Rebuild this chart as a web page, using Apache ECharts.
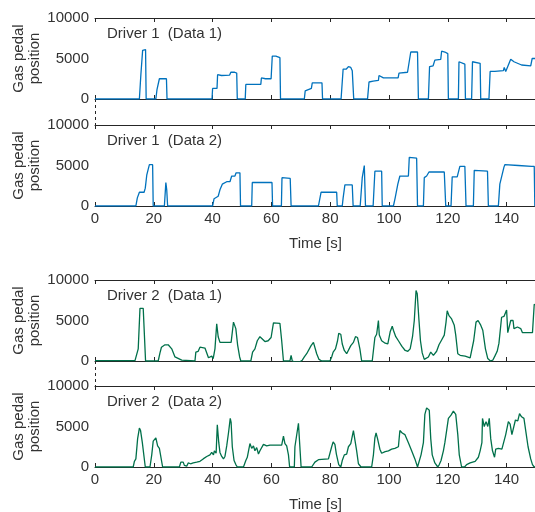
<!DOCTYPE html>
<html>
<head>
<meta charset="utf-8">
<script src="https://cdn.jsdelivr.net/npm/echarts@6/dist/echarts.min.js"></script>
<style>
html, body { margin: 0; padding: 0; background: #fff; }
#chart { width: 535px; height: 512px; }
</style>
</head>
<body>
<div id="chart"></div>
<script>
// time [s] / gas pedal position pairs
var driver1Data1 = [[0,0],[11.5,0],[11.7,100],[11.9,0],[15.1,0],[15.6,3000],[16.2,6000],[16.3,6100],[17.2,6100],[17.4,0],
    [20.7,0],[21.1,1200],[21.9,2500],[24.3,2500],[24.5,0],
    [39.8,0],[40.0,1300],[41.5,1300],[41.7,3000],[43,2900],[45.8,2950],[46.2,3300],[47.5,3300],[48.2,3200],[48.4,0],
    [51.1,0],[51.3,1800],[56.4,1800],[56.6,2600],[58,2500],[59.9,2500],[60.3,5300],[61.5,5300],[62.9,5100],[63.1,0],
    [71.2,0],[71.5,1000],[72,1200],[73.6,1300],[73.9,2000],[77.2,2000],[77.4,0],
    [83.7,0],[84.4,3700],[85.5,3700],[86.2,4000],[87.0,3900],[87.5,3500],[88,0],
    [92.7,0],[93.2,2100],[94.6,2200],[96.4,2300],[96.6,2900],[98.1,2600],[103.1,2600],[103.4,3200],[106.3,3300],[106.8,3500],[107.4,5800],[109.7,5800],[110,0],
    [113.4,0],[113.8,4000],[115,4100],[115.6,4800],[117.6,4900],[117.9,5900],[119,5800],[120,5600],[120.2,0],
    [123.6,0],[123.8,4600],[125.8,4300],[126,0],
    [128.1,0],[128.4,4600],[131,4400],[131.2,0],
    [134,0],[134.4,3400],[136,3400],[138.9,3500],[139.2,3900],[139.7,3400],[141.4,4900],[142.5,4600],[145.1,4200],[148.2,4100],[148.7,5000],[150,5000]];

var driver1Data2 = [[0,0],[13.9,0],[14.4,1000],[15.1,1700],[16.7,1700],[17.1,2200],[17.6,3800],[18.0,4400],[18.5,5100],[19.6,5100],[19.8,0],
    [23.6,0],[24.1,2900],[24.4,2000],[24.7,0],
    [40,0],[40.5,900],[41.9,1200],[42.5,2000],[43.3,2700],[44.8,3000],[45.9,3000],[46.5,3700],[47.6,3700],[48.0,4100],[49.3,4100],[49.5,0],
    [53.3,0],[53.5,2900],[60.2,2900],[60.4,0],
    [63.4,0],[63.6,3500],[66.4,3400],[66.7,0],
    [76,0],[76.9,1700],[82.2,1700],[82.4,0],
    [84.1,0],[84.4,1000],[85,2600],[87.5,2600],[87.8,0],
    [90.2,0],[90.9,3500],[91.6,5000],[92,0],
    [94.6,0],[95.2,4300],[97.5,4300],[97.7,0],
    [101.5,0],[102.1,1000],[103,2700],[103.7,3700],[106.6,3700],[106.9,6000],[109.4,5900],[109.7,0],
    [111.7,0],[112,3500],[112.8,3700],[113.6,4200],[118.8,4200],[119.3,0],
    [121.1,0],[121.5,3600],[123.2,3600],[124.1,4900],[125.8,4900],[126.2,0],
    [128.7,0],[129,4400],[133.5,4300],[133.8,0],
    [137.2,0],[137.7,2700],[139.1,4800],[139.4,5100],[144,5000],[148.5,4900],[149.4,4900],[149.6,0],[150,0]];

var driver2Data1 = [[0,50],[13.6,50],[14.7,1500],[15.3,6500],[16.4,6500],[17.2,0],
    [21.5,0],[22.1,1000],[22.6,1700],[23.8,2000],[24.9,2000],[26.1,1500],[27.2,500],[29.5,100],[34,0],
    [34.3,1100],[35.1,1200],[35.7,1700],[37.4,1600],[38,1400],[38.6,400],[39.1,200],[39.7,600],[40.2,300],[40.8,1500],[41.4,4600],[41.9,3000],[42.5,2300],[46.3,2300],[47.1,4800],[47.3,4900],[47.9,4000],[48.5,2000],[49.2,500],[49.6,0],
    [53,0],[53.6,1100],[54.4,1500],[55.2,2500],[56.1,3000],[57.8,2400],[58.9,2500],[59.9,2900],[60.7,4700],[61,4800],[62.9,4650],[63.5,2500],[64.1,0],
    [66.3,0],[66.7,700],[67.1,0],[68,-100],[69.7,-100],[70.5,100],[71.2,500],[72,900],[72.6,1100],[73.5,1900],[74.3,2300],[74.8,2200],[75.4,900],[76.2,200],[77.1,0],[79.9,0],
    [80.5,500],[81,1100],[81.8,1500],[82.5,2500],[82.9,3400],[83.6,3300],[84.1,2100],[84.8,1300],[85.6,900],[86.2,1000],[87,1900],[87.9,2300],[88.6,3000],[89.3,2900],[90.1,1500],[90.7,0],
    [94.3,0],[95.2,2900],[95.8,3300],[96.4,5000],[96.7,3200],[97.5,2500],[98.7,2200],[99.6,2100],[100.4,3600],[101.1,4300],[101.5,3800],[102.3,3000],[103.2,2500],[104.4,1800],[105.5,1300],[106.4,1200],[107.2,1500],[108,3000],[108.6,5000],[109.2,8700],[109.6,8300],[110.2,5000],[110.7,2500],[111.3,1000],[112,200],[112.5,0],
    [113.4,500],[114.2,1100],[115.1,700],[116.2,1200],[117,2000],[117.9,2600],[118.8,3200],[119.4,4800],[119.8,6200],[120.4,5600],[121.3,5200],[122.2,4400],[122.7,3200],[123.4,900],[124.2,700],[125.9,600],[127.6,400],[128.2,600],
    [128.8,2500],[129.6,4800],[130.3,5000],[131.1,4500],[131.9,3800],[132.8,1500],[133.6,300],[134.5,0],[135.3,100],[136,600],[136.8,1200],[137.4,2200],[138.3,5400],[139.1,5500],[139.7,5500],[140,6300],[140.4,3500],[140.8,3500],
    [141.4,5000],[142.2,5000],[142.5,4000],[143.1,4000],[143.7,4200],[144.8,4000],[145.4,3500],[148.8,3500],[149.4,7000],[150,6900]];

var driver2Data2 = [[0,0],[13,0],[13.4,700],[13.9,1000],[14.5,3500],[15.1,4800],[15.5,4500],[16.1,3000],[16.6,2800],[17.1,0],
    [18.7,0],[19.3,1500],[19.8,3200],[20.4,3300],[20.7,3600],[21.3,2600],[21.9,2300],[22.4,2300],[23,0],
    [28.7,0],[29.2,600],[30,600],[30.4,200],[31.2,100],[31.7,500],[32.5,400],[33.4,500],[34.6,600],[35.7,700],[36.8,1000],[38,1300],[38.5,1500],[39.1,1500],[39.7,1800],[40.3,1500],[40.6,2000],[41.2,1700],[41.6,5200],[42.1,3000],[42.5,1800],[43.1,1300],[43.7,1000],[44.2,1300],[44.8,2600],[45.4,4200],[46,6000],[46.3,5500],[46.7,2500],[47.3,800],[47.9,300],[48.4,0],
    [50.5,0],[51.3,800],[51.8,1200],[52.7,2900],[53.3,2300],[53.9,2600],[54.4,2000],[55,2400],[55.6,1600],[56.1,2000],[57.3,2800],[58.4,2600],[59.5,2700],[61.2,2700],[63.5,2700],[64.1,3800],[64.6,2900],[65.2,2600],[65.8,1500],[66.2,0],
    [67.8,0],[68,2500],[68.6,2700],[69.2,5400],[69.6,3000],[70.1,0],
    [73.7,0],[74.8,600],[76,900],[79.4,1000],[79.9,1200],[80.5,2500],[81,3100],[81.6,2800],[82.1,1600],[82.9,300],[83.6,0],[84.1,800],[84.8,1500],[85.6,1600],[86.2,2500],[87,2900],[87.9,4500],[88.4,4300],[89,2000],[89.6,400],[90.5,0],
    [94.1,0],[94.7,1500],[95.2,3600],[95.6,4200],[96.1,3500],[96.9,2200],[97.5,1700],[98.7,1900],[99.8,2000],[100.9,2200],[102,2300],[103.2,2500],[103.7,4500],[104.5,4200],[105.4,4000],[106.6,3000],[107.7,2000],[108.8,1000],[109.7,0],[110.2,0],
    [110.9,1500],[111.7,3000],[112.2,6500],[112.8,7300],[113.4,7400],[113.7,7000],[114.2,3500],[114.7,1500],[115.6,500],[116.6,0],[117.1,300],[117.7,800],[118.5,2000],[119,3000],[119.6,4500],[120.2,6000],[121.1,6400],[121.9,6900],[122.7,6500],[123.4,4000],[123.9,1500],[124.7,0],[125.7,0],
    [126.4,300],[127.6,500],[129.3,700],[130.4,1200],[131,2000],[131.6,3000],[131.8,6000],[132.4,5000],[133,5600],[133.6,5000],[134.1,6000],[134.6,3500],[135.2,2000],[135.9,1200],[136.3,2200],[137.2,2300],[138.4,2200],[138.9,2300],
    [139.7,4000],[140.6,5600],[141.2,5300],[141.8,4000],[142.4,3800],[143,5800],[143.8,5700],[144.4,6600],[145.1,6200],[145.9,6000],[146.5,4500],[147.3,2500],[148.2,1000],[148.8,300],[149.4,0],[150,0]];

var panelTitles = ['Driver 1  (Data 1)', 'Driver 1  (Data 2)', 'Driver 2  (Data 1)', 'Driver 2  (Data 2)'];
var panelSeries = [driver1Data1, driver1Data2, driver2Data1, driver2Data2];
var lineColors = ['#0072bd', '#0072bd', '#00704a', '#00704a'];
var timeTicks = [0, 20, 40, 60, 80, 100, 120, 140];
var yTicks = [0, 5000, 10000];

var gridTops = [18, 125, 280, 386];
var gridH = 81;
var gridLeft = 95;
var gridW = 441;
var txt = '#333';
var font = 'Liberation Sans, Arial, sans-serif';

var grids = [], xAxes = [], yAxes = [], series = [], titles = [];
for (var i = 0; i < 4; i++) {
    var showX = (i === 1 || i === 3);
    grids.push({ left: gridLeft, top: gridTops[i], width: gridW, height: gridH,
        containLabel: false, outerBoundsMode: 'none' });
    // bottom x axis
    xAxes.push({
        type: 'value', gridIndex: i, min: 0, max: 150, interval: 20, position: 'bottom',
        name: showX ? 'Time [s]' : '', nameLocation: 'middle', nameGap: 30,
        nameTextStyle: { color: txt, fontSize: 15, fontFamily: font },
        axisLine: { onZero: false, lineStyle: { color: '#262626', width: 1 } },
        axisTick: { show: true, inside: true, length: 4, lineStyle: { color: '#262626' } },
        axisLabel: { show: showX, color: txt, fontSize: 15, fontFamily: font, margin: 5,
            formatter: function (v) { return timeTicks.indexOf(v) >= 0 ? v : ''; } },
        splitLine: { show: false }
    });
    // top x axis
    xAxes.push({
        type: 'value', gridIndex: i, min: 0, max: 150, interval: 20, position: 'top',
        axisLine: { onZero: false, lineStyle: { color: '#262626', width: 1 } },
        axisTick: { show: true, inside: true, length: 4, lineStyle: { color: '#262626' } },
        axisLabel: { show: false },
        splitLine: { show: false }
    });
    yAxes.push({
        type: 'value', gridIndex: i, min: 0, max: 10000, interval: 5000, position: 'left',
        name: 'Gas pedal\nposition', nameLocation: 'middle', nameGap: 52, nameMoveOverlap: false,
        nameTextStyle: { color: txt, fontSize: 15, fontFamily: font, lineHeight: 16 },
        axisLine: { show: false },
        axisTick: { show: false },
        axisLabel: { color: txt, fontSize: 15, fontFamily: font, margin: 6,
            formatter: function (v) { return yTicks.indexOf(v) >= 0 ? v : ''; } },
        splitLine: { show: false }
    });
    series.push({
        type: 'line', xAxisIndex: i * 2, yAxisIndex: i, data: panelSeries[i],
        showSymbol: false, symbol: 'none', animation: false,
        lineStyle: { color: lineColors[i], width: 1.3 }, z: 5
    });
    titles.push({
        text: panelTitles[i], left: 102, top: gridTops[i] + 3,
        textStyle: { color: txt, fontSize: 15, fontWeight: 'normal', fontFamily: font }
    });
}

var chart = echarts.init(document.getElementById('chart'), null, { renderer: 'canvas' });
chart.setOption({
    animation: false,
    title: titles,
    grid: grids,
    xAxis: xAxes,
    yAxis: yAxes,
    series: series,
    graphic: [
        { type: 'line', shape: { x1: gridLeft + 0.5, y1: gridTops[0] + gridH, x2: gridLeft + 0.5, y2: gridTops[1] },
          style: { stroke: '#262626', lineWidth: 1, lineDash: [3, 3] } },
        { type: 'line', shape: { x1: gridLeft + 0.5, y1: gridTops[2] + gridH, x2: gridLeft + 0.5, y2: gridTops[3] },
          style: { stroke: '#262626', lineWidth: 1, lineDash: [3, 3] } }
    ]
});
</script>
</body>
</html>
